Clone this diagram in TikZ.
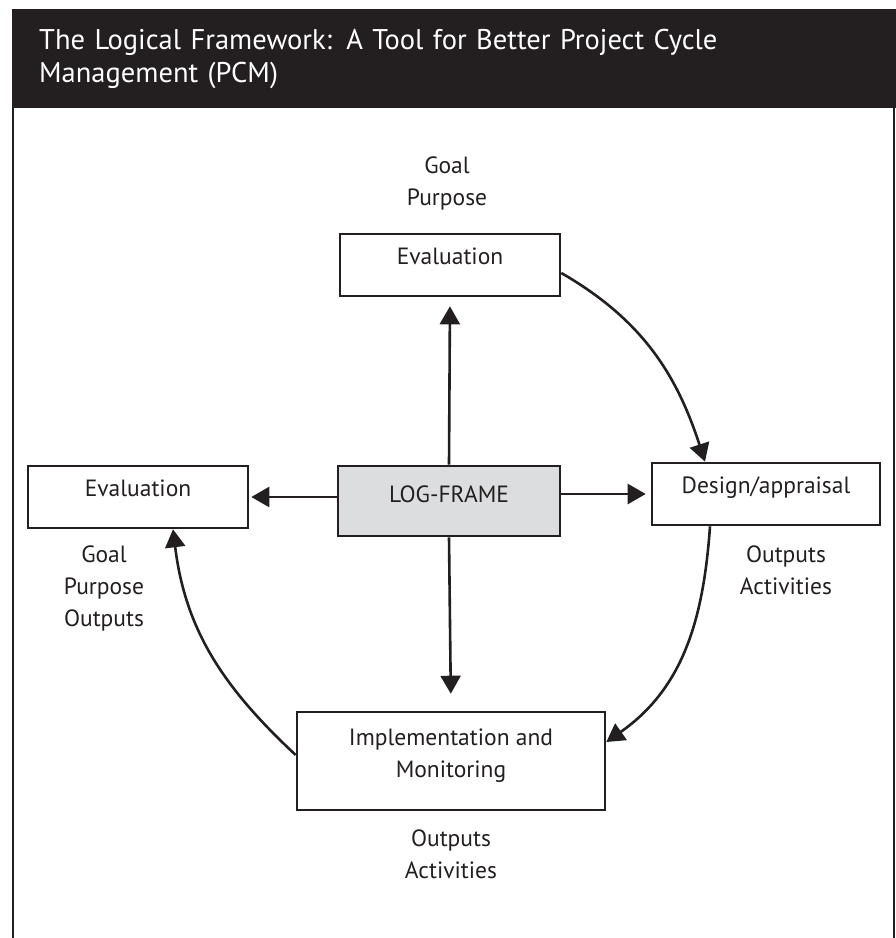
\documentclass[tikz,border=0pt]{standalone}
\usepackage{fontspec}
\setmainfont{PT Sans}
\usepackage{tikz}
\usetikzlibrary{arrows.meta,positioning}
\definecolor{ink}{HTML}{231F20}
\definecolor{shade}{HTML}{DCDDDE}
\tikzset{
  box/.style={draw=ink,line width=2.6pt,align=center,minimum height=62pt,text depth=17pt,inner sep=0pt,fill=white,text=ink},
  logbox/.style={box,fill=shade,minimum height=70pt,text depth=13pt},
  note/.style={align=center,inner sep=0pt,text=ink},
  titlebar/.style={fill=ink,text=white,anchor=north west,align=left,minimum width=884pt,minimum height=99pt,text width=830pt,inner xsep=27pt,inner ysep=0pt,font=\fontsize{28.5}{33}\selectfont},
  arrow/.style={-{Triangle[length=18pt,width=20pt]},line width=2.6pt,draw=ink}
}

\begin{document}
\begin{tikzpicture}[x=1pt,y=-1pt,font=\fontsize{23.5}{32}\selectfont]
    \useasboundingbox (0,0) rectangle (896,938);
    % title band and frame
    \node[titlebar] (title) at (12,9) {The Logical Framework: A Tool for Better Project Cycle\\Management (PCM)};
    \draw[ink,line width=2.6pt] (13,108) -- (13,938);
    \draw[ink,line width=2.6pt] (894,108) -- (894,938);
    % boxes
    \node[logbox,minimum width=222pt] (logframe) at (449,501) {LOG-FRAME};
    \node[box,minimum width=220pt] (evaltop) at (450,265) {Evaluation};
    \node[box,minimum width=220pt] (evalleft) at (138,497) {Evaluation};
    \node[box,minimum width=228pt] (design) at (766,494) {Design/appraisal};
    \node[box,minimum width=308pt,minimum height=98pt,text depth=15pt] (impl) at (451,761) {Implementation and\\Monitoring};
    % notes
    \node[note,above=22pt of evaltop,xshift=-3pt] (evaltopnote) {Goal\\Purpose};
    \node[note,below=16pt of evalleft,xshift=-34pt] (evalleftnote) {Goal\\Purpose\\Outputs};
    \node[note,below=19pt of design,xshift=20pt] (designnote) {Outputs\\Activities};
    \node[note,below=18pt of impl] (implnote) {Outputs\\Activities};
    % straight arrows
    \draw[arrow,shorten >=9pt] (logframe.north) -- (evaltop.south);
    \draw[arrow,shorten >=2pt] (evalleft.east -| logframe.west) -- (evalleft.east);
    \draw[arrow,shorten >=5pt] (design.west -| logframe.east) -- (design.west);
    \draw[arrow,shorten >=17pt] (logframe.south) -- (impl.north);
    % cycle
    \draw[arrow] ([yshift=-8pt]evaltop.east) to[out=-30,in=108] ([xshift=-61pt]design.north);
    \draw[arrow] ([xshift=-56pt]design.south) to[out=-94,in=35] ([yshift=19pt]impl.east);
    \draw[arrow] ([yshift=6pt]impl.west) to[out=137,in=-83] ([xshift=35pt]evalleft.south);
  \end{tikzpicture}
\end{document}
